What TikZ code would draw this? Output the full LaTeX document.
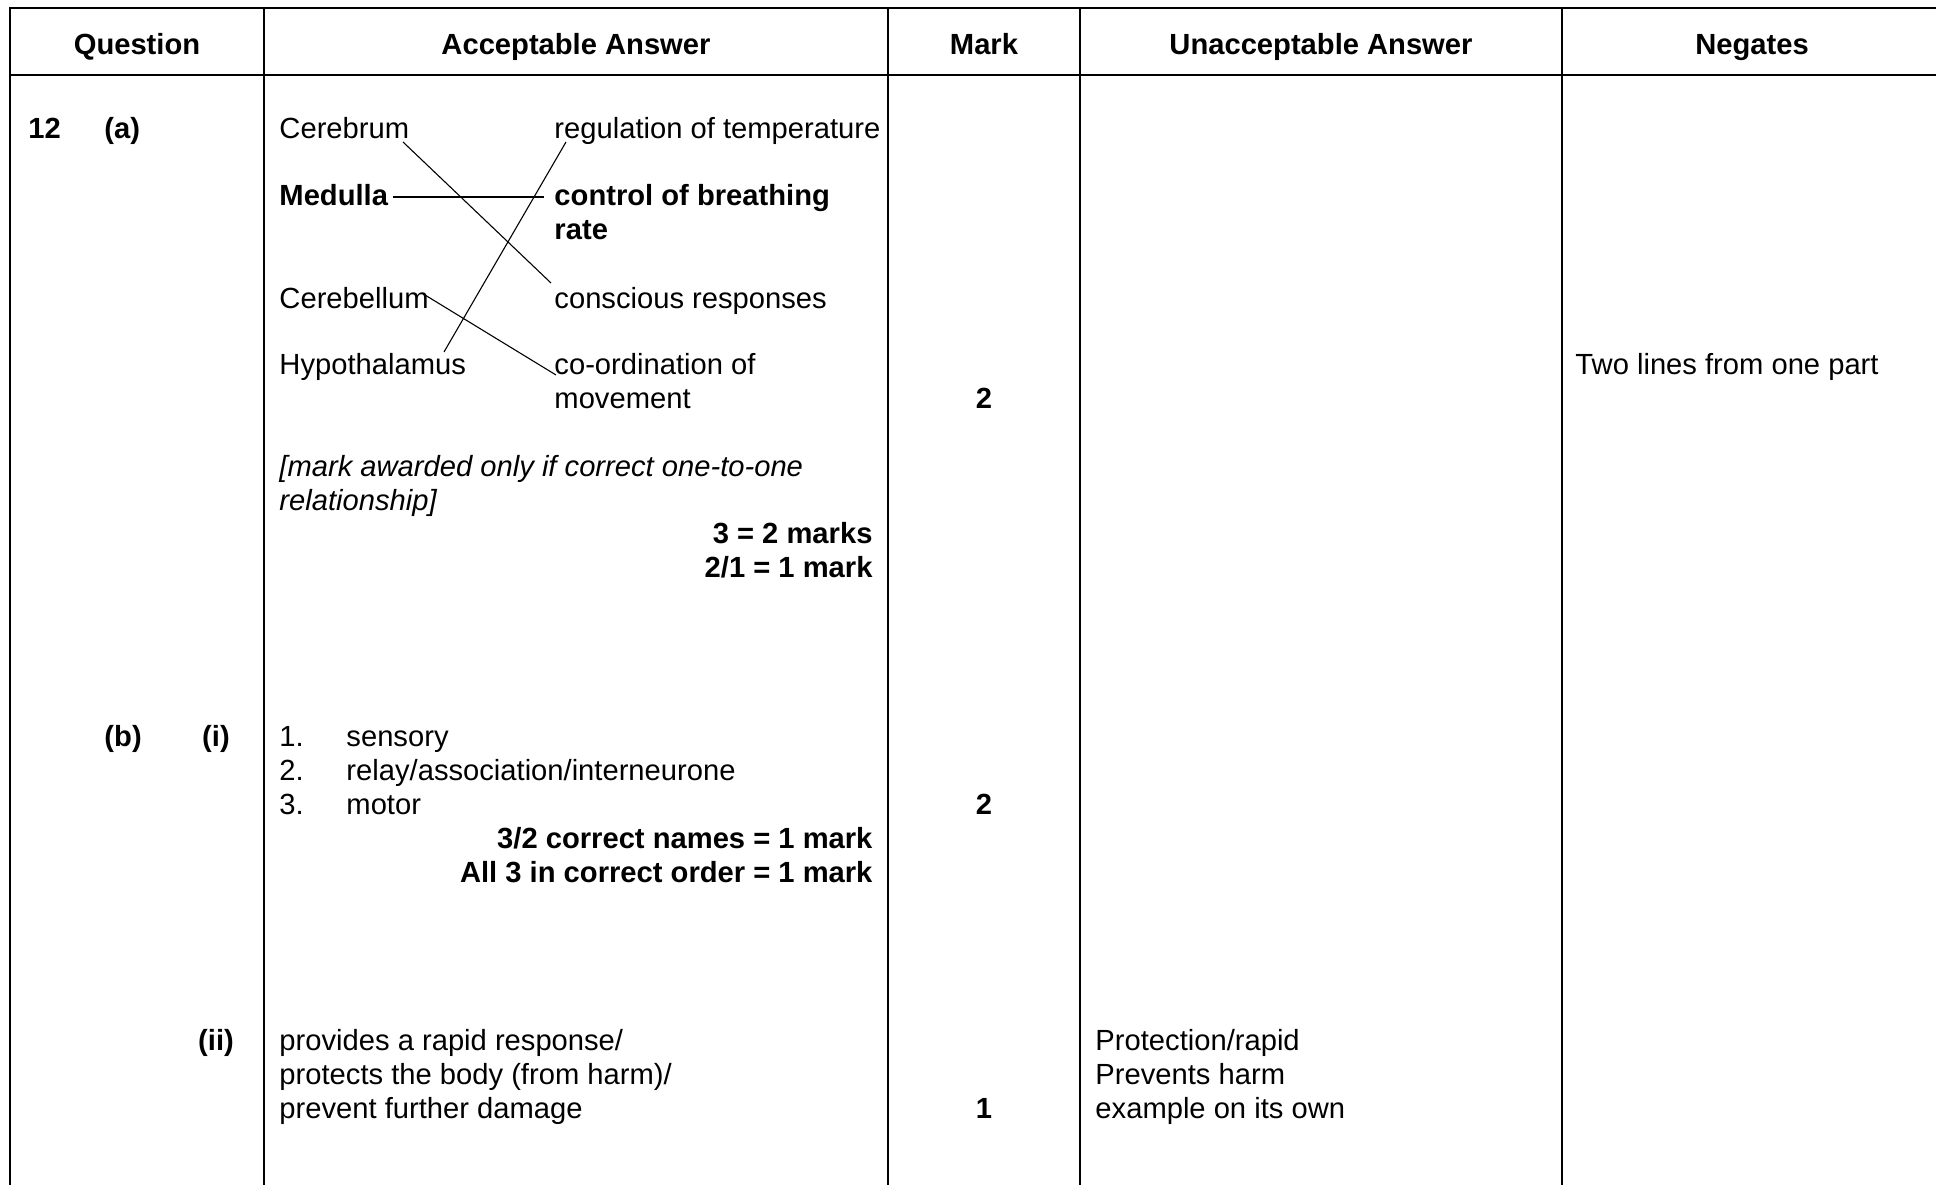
\documentclass[tikz,border=0pt]{standalone}
\usepackage{fontspec}
\setmainfont{Liberation Sans}
\begin{document}
\begin{tikzpicture}[x=0.4115pt,y=-0.4115pt,
  txt/.style={inner sep=0pt,anchor=base west,font=\fontsize{12}{13.8}\selectfont},
  btxt/.style={inner sep=0pt,anchor=base west,font=\fontsize{12}{13.8}\selectfont\bfseries},
  itxt/.style={inner sep=0pt,anchor=base west,font=\fontsize{12}{13.8}\selectfont\itshape},
  ctr/.style={anchor=base},
  rgt/.style={anchor=base east},
  hrule/.style={line width=0.8pt},
  vrule/.style={line width=0.65pt},
  link/.style={line width=0.45pt}]
\useasboundingbox (0,0) rectangle (1936,1185);
% table rules
\draw[hrule] (10,8) -- (1936,8);
\draw[hrule] (10,75) -- (1936,75);
\draw[hrule] (10,7) -- (10,1185);
\draw[vrule] (264,8) -- (264,1185);
\draw[vrule] (888,8) -- (888,1185);
\draw[vrule] (1080,8) -- (1080,1185);
\draw[vrule] (1562,8) -- (1562,1185);
\begin{scope}[shift={(0,2.5)}]
% header
\node[btxt,ctr] (hq) at (137,52) {Question};
\node[btxt,ctr] (ha) at (576,52) {Acceptable Answer};
\node[btxt,ctr] (hm) at (984,52) {Mark};
\node[btxt,ctr] (hu) at (1321,52) {Unacceptable Answer};
\node[btxt,ctr] (hn) at (1752,52) {Negates};
% question 12 (a)
\node[btxt] (q12) at (28,136) {12};
\node[btxt] (qa) at (104,136) {(a)};
\node[txt] (cer) at (279,136) {Cerebrum};
\node[txt] (reg) at (554,136) {regulation of temperature};
\node[btxt] (med) at (279,203) {Medulla};
\node[btxt] (ctl) at (554,203) {control of breathing};
\node[btxt] (rate) at (554,237) {rate};
\node[txt] (cbl) at (279,306) {Cerebellum};
\node[txt] (con) at (554,306) {conscious responses};
\node[txt] (hyp) at (279,372) {Hypothalamus};
\node[txt] (coo) at (554,372) {co-ordination of};
\node[txt] (mov) at (554,406) {movement};
\node[itxt] (note1) at (279,474) {[mark awarded only if correct one-to-one};
\node[itxt] (note2) at (279,508) {relationship]};
\node[btxt,rgt] (m3) at (873,541) {3 = 2 marks};
\node[btxt,rgt] (m21) at (873,575) {2/1 = 1 mark};
\node[btxt,ctr] (mka) at (984,406) {2};
\node[txt] (neg) at (1575,372) {Two lines from one part};
% (b)(i)
\node[btxt] (qb) at (104,744) {(b)};
\node[btxt,ctr] (qi) at (216,744) {(i)};
\node[txt] (n1) at (279,744) {1.};
\node[txt] (s1) at (346,744) {sensory};
\node[txt] (n2) at (279,778) {2.};
\node[txt] (s2) at (346,778) {relay/association/interneurone};
\node[txt] (n3) at (279,812) {3.};
\node[txt] (s3) at (346,812) {motor};
\node[btxt,rgt] (c32) at (873,846) {3/2 correct names = 1 mark};
\node[btxt,rgt] (call) at (873,880) {All 3 in correct order = 1 mark};
\node[btxt,ctr] (mkbi) at (984,812) {2};
% (b)(ii)
\node[btxt,ctr] (qii) at (216,1048) {(ii)};
\node[txt] (p1) at (279,1048) {provides a rapid response/};
\node[txt] (p2) at (279,1082) {protects the body (from harm)/};
\node[txt] (p3) at (279,1116) {prevent further damage};
\node[btxt,ctr] (mkbii) at (984,1116) {1};
\node[txt] (u1) at (1095,1048) {Protection/rapid};
\node[txt] (u2) at (1095,1082) {Prevents harm};
\node[txt] (u3) at (1095,1116) {example on its own};
\end{scope}
% matching lines
\coordinate (cerE) at (403,142);
\coordinate (conW) at (551,283);
\coordinate (medE) at (393,197);
\coordinate (ctlW) at (544,197);
\coordinate (regW) at (566,142);
\coordinate (hypE) at (444,352);
\coordinate (cblE) at (425,295);
\coordinate (cooW) at (556,375);
\draw[link] (cerE) -- (conW);
\draw[link] (medE) -- (ctlW);
\draw[link] (regW) -- (hypE);
\draw[link] (cblE) -- (cooW);
\end{tikzpicture}
\end{document}
